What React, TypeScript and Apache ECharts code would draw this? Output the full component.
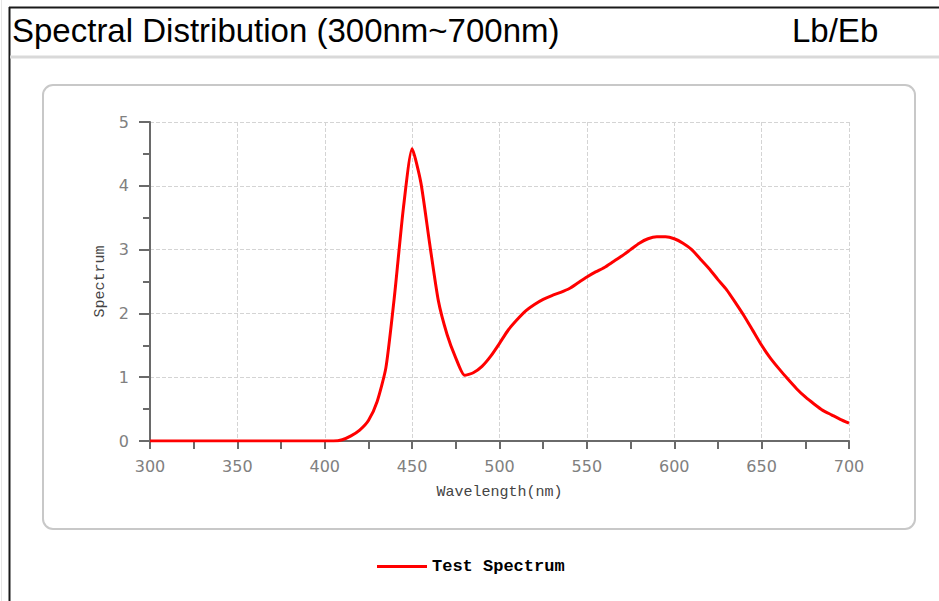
import React, { useEffect, useRef } from "react";
import * as echarts from "echarts";

const wavelengths: number[] = [
  300, 305, 310, 315, 320, 325, 330, 335, 340, 345, 350, 355, 360, 365, 370, 375, 380, 385, 390, 395,
  400, 405, 410, 415, 420, 425, 430, 435, 440, 445, 450, 455, 460, 465, 470, 475, 480, 485, 490, 495,
  500, 505, 510, 515, 520, 525, 530, 535, 540, 545, 550, 555, 560, 565, 570, 575, 580, 585, 590, 595,
  600, 605, 610, 615, 620, 625, 630, 635, 640, 645, 650, 655, 660, 665, 670, 675, 680, 685, 690, 695, 700,
];
const spectrum: number[] = [
  0, 0, 0, 0, 0, 0, 0, 0, 0, 0, 0, 0, 0, 0, 0, 0, 0, 0, 0, 0,
  0, 0, 0.02, 0.08, 0.17, 0.32, 0.62, 1.15, 2.3, 3.65, 4.58, 4.05, 3.1, 2.2, 1.67, 1.3, 1.03, 1.07, 1.17, 1.33,
  1.53, 1.74, 1.9, 2.04, 2.14, 2.22, 2.28, 2.33, 2.39, 2.48, 2.57, 2.65, 2.72, 2.81, 2.9, 3.0, 3.1, 3.17, 3.2, 3.2,
  3.17, 3.1, 3.0, 2.85, 2.7, 2.53, 2.37, 2.17, 1.96, 1.73, 1.5, 1.3, 1.13, 0.97, 0.82, 0.69, 0.58, 0.48, 0.41, 0.34, 0.28,
];
const seriesName = "Test Spectrum";
const titleText = "Spectral Distribution (300nm~700nm)";
const unitText = "Lb/Eb";
const xAxisName = "Wavelength(nm)";
const yAxisName = "Spectrum";

export default function App() {
  const ref = useRef<HTMLDivElement>(null);
  useEffect(() => {
    if (!ref.current) return;
    const chart = echarts.init(ref.current, null, { renderer: "svg" });
    const data = wavelengths.map((w, i) => [w, spectrum[i]]);
    const mono = "Liberation Mono";
    chart.setOption({
      animation: false,
      backgroundColor: "#ffffff",
      graphic: [
        { type: "line", shape: { x1: 1.5, y1: 0, x2: 1.5, y2: 601 }, style: { stroke: "#e6e6e6", lineWidth: 1 }, silent: true },
        { type: "line", shape: { x1: 9, y1: 7.5, x2: 939, y2: 7.5 }, style: { stroke: "#1a1a1a", lineWidth: 2 }, silent: true },
        { type: "line", shape: { x1: 9.5, y1: 7, x2: 9.5, y2: 601 }, style: { stroke: "#1a1a1a", lineWidth: 2 }, silent: true },
        { type: "line", shape: { x1: 10, y1: 57, x2: 939, y2: 57 }, style: { stroke: "#d9d9d9", lineWidth: 3 }, silent: true },
        {
          type: "rect",
          shape: { x: 43, y: 85, width: 872, height: 444, r: 10 },
          style: { fill: "none", stroke: "#c8c8c8", lineWidth: 2 },
          silent: true,
          z: -1,
        },
        {
          type: "text",
          left: 12,
          top: 14,
          style: { text: titleText, font: "33px 'Liberation Sans'", fill: "#000000" },
          silent: true,
        },
        {
          type: "text",
          left: 792,
          top: 14,
          style: { text: unitText, font: "33px 'Liberation Sans'", fill: "#000000" },
          silent: true,
        },
      ],
      legend: {
        left: 372,
        top: 553,
        icon: "rect",
        itemWidth: 50,
        itemHeight: 3,
        itemGap: 10,
        textStyle: { fontFamily: mono, fontWeight: "bold", fontSize: 17, color: "#000" },
        data: [seriesName],
      },
      grid: { left: 150, top: 122, width: 699, height: 319, containLabel: false },
      xAxis: {
        type: "value",
        min: 300,
        max: 700,
        interval: 50,
        name: xAxisName,
        nameLocation: "middle",
        nameGap: 44,
        nameTextStyle: { fontFamily: mono, fontSize: 15, color: "#444" },
        axisLine: { show: true, lineStyle: { color: "#6a6a6a", width: 2 } },
        axisTick: { show: true, length: 8, lineStyle: { color: "#6a6a6a", width: 2 } },
        minorTick: { show: true, splitNumber: 2, length: 8, lineStyle: { color: "#6a6a6a", width: 2 } },
        axisLabel: { margin: 17, fontFamily: "DejaVu Sans", fontSize: 16, color: "#808080" },
        splitLine: { show: true, lineStyle: { color: "#d4d4d4", type: "dashed", width: 1 } },
      },
      yAxis: {
        type: "value",
        min: 0,
        max: 5,
        interval: 1,
        name: yAxisName,
        nameLocation: "middle",
        nameGap: 40,
        nameTextStyle: { fontFamily: mono, fontSize: 15, color: "#444" },
        axisLine: { show: true, lineStyle: { color: "#6a6a6a", width: 2 } },
        axisTick: { show: true, length: 11, lineStyle: { color: "#6a6a6a", width: 2 } },
        minorTick: { show: true, splitNumber: 2, length: 7, lineStyle: { color: "#6a6a6a", width: 2 } },
        axisLabel: { margin: 21, fontFamily: "DejaVu Sans", fontSize: 16, color: "#808080" },
        splitLine: { show: true, lineStyle: { color: "#d4d4d4", type: "dashed", width: 1 } },
      },
      series: [
        {
          name: seriesName,
          type: "line",
          data,
          showSymbol: false,
          symbol: "none",
          smooth: 0.2,
          lineStyle: { color: "#ff0000", width: 3 },
          itemStyle: { color: "#ff0000" },
        },
      ],
    });
    return () => chart.dispose();
  }, []);
  return (
    <div
      ref={ref}
      style={{ position: "fixed", left: 0, top: 0, width: 939, height: 601, background: "#fff" }}
    />
  );
}
